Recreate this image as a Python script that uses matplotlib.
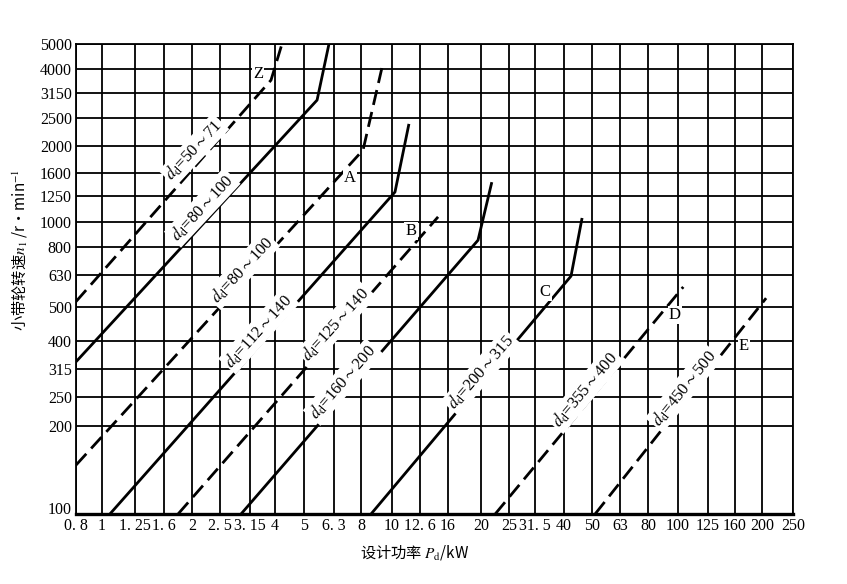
"""
V-belt type selection chart: small pulley speed against design power.
"""

import numpy as np
import matplotlib
import matplotlib.pyplot as plt
from matplotlib.ticker import FixedLocator, FixedFormatter, NullLocator

matplotlib.use('Agg')

# x axis: design power Pd (kW)
power_ticks = [0.8, 1, 1.25, 1.6, 2, 2.5, 3.15, 4, 5, 6.3, 8, 10, 12.6, 16,
               20, 25, 31.5, 40, 50, 63, 80, 100, 125, 160, 200, 250]
power_labels = ['0. 8', '1', '1. 25', '1. 6', '2', '2. 5', '3. 15', '4', '5',
                '6. 3', '8', '10', '12. 6', '16', '20', '25', '31. 5', '40',
                '50', '63', '80', '100', '125', '160', '200', '250']

# y axis: small pulley speed n1 (r/min)
speed_ticks = [100, 200, 250, 315, 400, 500, 630, 800, 1000, 1250, 1600,
               2000, 2500, 3150, 4000, 5000]

# boundary lines of each belt section (power, speed)
z_dash_p = [0.8, 3.85, 4.22]
z_dash_n = [520, 3580, 5000]
z_solid_p = [0.8, 5.53, 6.06]
z_solid_n = [335, 2950, 5000]
a_dash_p = [0.8, 8.12, 9.3]
a_dash_n = [147, 1935, 4040]
a_solid_p = [1.055, 10.25, 11.5]
a_solid_n = [100, 1305, 2385]
b_dash_p = [1.79, 14.7]
b_dash_n = [100, 1045]
b_solid_p = [2.94, 19.6, 21.8]
b_solid_n = [100, 850, 1450]
c_solid_p = [8.6, 42.3, 46.2]
c_solid_n = [100, 625, 1035]
d_dash_p = [22.4, 104]
d_dash_n = [100, 578]
e_dash_p = [51.3, 206]
e_dash_n = [100, 533]

# pulley diameter ranges written along the lines
diameter_ranges = ['50～71', '80～100', '80～100', '112～140', '125～140',
                   '160～200', '200～315', '355～400', '450～500']
belt_types = ['Z', 'A', 'B', 'C', 'D', 'E']

# grid spacing of the printed chart (pixels from the axis origin)
x_grid_px = [0, 26, 59, 88, 116, 144, 174, 199, 228, 258, 285, 316, 344, 372,
             405, 433, 459, 488, 516, 544, 572, 602, 632, 659, 686, 717]
y_grid_px = [0, 88, 117, 145, 173, 207, 239, 267, 292, 318, 341, 368, 396,
             421, 445, 470]


def make_scale(ticks, px):
    """Scale that follows the uneven grid of the printed chart."""
    logs = np.log10(ticks)

    def forward(v):
        v = np.clip(np.asarray(v, dtype=float), 1e-9, None)
        return np.interp(np.log10(v), logs, px)

    def inverse(u):
        return 10 ** np.interp(u, px, logs)

    return forward, inverse


plt.rcParams['font.family'] = ['Liberation Serif', 'Noto Sans CJK SC']
plt.rcParams['mathtext.fontset'] = 'stix'

fig = plt.figure(figsize=(8.47, 5.84), dpi=100)
ax = fig.add_axes([76 / 847, 1 - 514 / 584, 717 / 847, 470 / 584])

ax.set_xscale('function', functions=make_scale(power_ticks, x_grid_px))
ax.set_yscale('function', functions=make_scale(speed_ticks, y_grid_px))
ax.set_xlim(0.8, 250)
ax.set_ylim(100, 5000)

ax.xaxis.set_major_locator(FixedLocator(power_ticks))
ax.xaxis.set_major_formatter(FixedFormatter(power_labels))
ax.xaxis.set_minor_locator(NullLocator())
ax.yaxis.set_major_locator(FixedLocator(speed_ticks))
ax.yaxis.set_major_formatter(FixedFormatter([str(v) for v in speed_ticks]))
ax.yaxis.set_minor_locator(NullLocator())
ax.tick_params(length=0, labelsize=11.5, colors='black')
ax.tick_params(axis='x', pad=3)
ax.tick_params(axis='y', pad=3)

# lift the lowest speed label clear of the power labels
ax.yaxis.get_major_ticks()[0].label1.set_verticalalignment('baseline')

ax.grid(True, color='black', lw=1.3, zorder=1)
ax.set_axisbelow(True)
for side in ['left', 'right', 'top']:
    ax.spines[side].set_linewidth(1.3)
ax.spines['bottom'].set_linewidth(2.4)

# boundary lines
dash = (0, (5.5, 2.6))
curves = [(z_dash_p, z_dash_n, dash), (z_solid_p, z_solid_n, '-'),
          (a_dash_p, a_dash_n, dash), (a_solid_p, a_solid_n, '-'),
          (b_dash_p, b_dash_n, dash), (b_solid_p, b_solid_n, '-'),
          (c_solid_p, c_solid_n, '-'), (d_dash_p, d_dash_n, dash),
          (e_dash_p, e_dash_n, dash)]
for p, n, ls in curves:
    ax.plot(p, n, color='black', lw=2.0, linestyle=ls, zorder=3,
            solid_capstyle='butt', dash_capstyle='butt')

# diameter labels: (power, speed, angle)
label_spots = [(2.03, 1935, 47), (2.17, 1130, 47), (2.96, 657, 47),
               (3.43, 427, 48), (6.41, 447, 48), (6.82, 283, 49),
               (20, 307, 49), (47.3, 265, 50), (104.6, 269, 51)]
box = dict(facecolor='white', edgecolor='none', pad=1.5)
for text, (p, n, ang) in zip(diameter_ranges, label_spots):
    lo, hi = text.split('～')
    ax.text(p, n, r'$d_{\rm d}$=' + lo + r'$\sim$' + hi, rotation=ang,
            rotation_mode='anchor', ha='center', va='center', fontsize=12,
            bbox=box, zorder=5)

# belt type letters
type_spots = [(3.4, 3810), (7.25, 1520), (11.7, 923), (34.2, 557),
              (97.8, 474), (172, 383)]
for name, (p, n) in zip(belt_types, type_spots):
    ax.text(p, n, name, ha='center', va='center', fontsize=12,
            bbox=dict(facecolor='white', edgecolor='none', pad=0.8),
            zorder=5)

fig.text(0.024, 1 - 250 / 584, '小带轮转速$n_1$ /r·min$^{-1}$', rotation=90,
         ha='center', va='center', fontsize=11, family='Noto Sans CJK SC')
fig.text(415 / 847, 1 - 552 / 584, '设计功率 $P_{\\rm d}$/kW',
         ha='center', va='center', fontsize=11, family='Noto Sans CJK SC')

fig.savefig('out.png', dpi=100)
